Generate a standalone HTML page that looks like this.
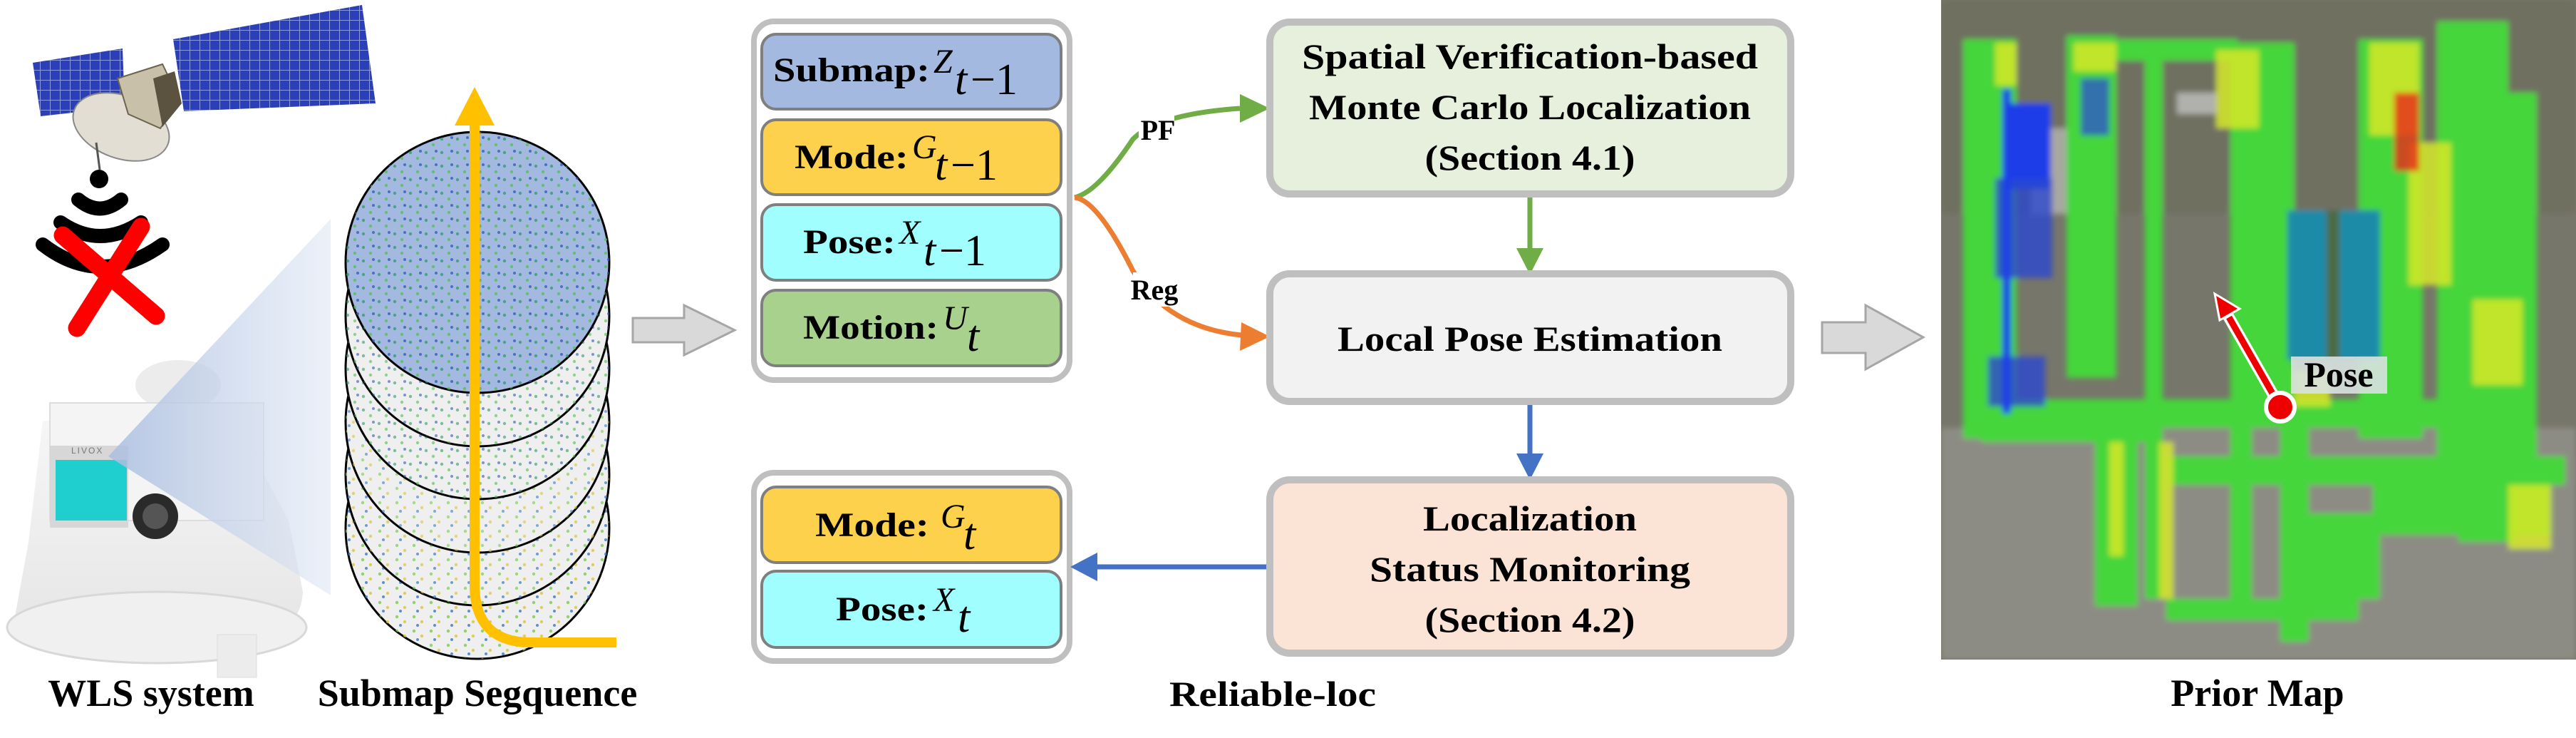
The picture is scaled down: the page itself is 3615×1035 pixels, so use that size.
<!DOCTYPE html>
<html><head><meta charset="utf-8"><style>
html,body{margin:0;padding:0;background:#fff}
svg{display:block}
text{font-family:"Liberation Serif",serif}
.b{font-weight:bold}
.m{font-style:italic;font-weight:normal}
</style></head><body>
<svg width="3615" height="1035" viewBox="0 0 3615 1035" xmlns="http://www.w3.org/2000/svg">
<defs>
<linearGradient id="beam" x1="0" y1="0" x2="1" y2="0"><stop offset="0" stop-color="#a9bde0" stop-opacity="0.85"/><stop offset="1" stop-color="#dfe7f4" stop-opacity="0.6"/></linearGradient>
<linearGradient id="body" x1="0" y1="0" x2="0" y2="1"><stop offset="0" stop-color="#f6f6f6"/><stop offset="1" stop-color="#e4e4e4"/></linearGradient>
<pattern id="cells" width="14" height="14" patternUnits="userSpaceOnUse"><rect width="14" height="14" fill="#2b3fb8"/><path d="M0 0H14M0 0V14" stroke="#8a98e0" stroke-width="2"/></pattern>
<pattern id="dots" width="22" height="19" patternUnits="userSpaceOnUse"><circle cx="4" cy="5" r="2.2" fill="#2e9a6a"/><circle cx="14" cy="13" r="2.2" fill="#4fbf4f"/><circle cx="18" cy="3" r="2" fill="#2c58b8"/></pattern>
<pattern id="dots2" width="24" height="20" patternUnits="userSpaceOnUse"><circle cx="5" cy="5" r="2.2" fill="#7acb4a"/><circle cx="16" cy="12" r="2.2" fill="#d8c63a"/><circle cx="10" cy="17" r="2" fill="#3a78c8"/></pattern>
<filter id="soft" x="-5%" y="-5%" width="110%" height="110%"><feGaussianBlur stdDeviation="4"/></filter>
</defs>

<!-- Satellite -->
<g>
<polygon points="46,88 172,68 175,150 57,163" fill="url(#cells)"/>
<polygon points="243,55 508,7 527,145 258,156" fill="url(#cells)"/>
<ellipse cx="170" cy="178" rx="70" ry="44" transform="rotate(20 170 178)" fill="#e2ded4" stroke="#888" stroke-width="2"/>
<polygon points="165,110 228,90 252,140 225,180 180,160" fill="#c8c0a8" stroke="#6b6450" stroke-width="2"/>
<polygon points="215,110 245,100 255,145 228,178" fill="#5b5240"/>
<line x1="135" y1="200" x2="140" y2="238" stroke="#555" stroke-width="3"/>
</g>
<!-- wifi -->
<circle cx="139" cy="251" r="13" fill="#000"/>
<g fill="none" stroke="#000" stroke-linecap="round" stroke-width="20">
<path d="M110,280 Q140,305 170,280"/>
<path d="M85,312 Q140,350 198,312"/>
<path d="M60,343 Q140,405 228,343"/>
</g>
<g stroke="#f00" stroke-width="25" stroke-linecap="round">
<line x1="88" y1="330" x2="219" y2="443"/><line x1="198" y1="318" x2="108" y2="460"/>
</g>

<!-- WLS device -->
<g>
<path d="M20,870 Q10,920 200,925 Q420,930 425,830 L405,730 L330,590 L60,590 L40,760 Z" fill="url(#body)"/>
<ellipse cx="220" cy="880" rx="210" ry="50" fill="#f0f0f0" stroke="#d8d8d8" stroke-width="3"/>
<ellipse cx="250" cy="540" rx="60" ry="35" fill="#ececec"/>
<rect x="70" y="565" width="300" height="165" fill="#f4f4f4" stroke="#ddd" stroke-width="2"/>
<rect x="70" y="625" width="110" height="115" fill="#d7d7d7"/>
<rect x="78" y="645" width="100" height="85" fill="#1fcfcf"/>
<text x="100" y="636" font-size="12" fill="#777" style="font-family:'Liberation Sans',sans-serif;letter-spacing:2px">LIVOX</text>
<circle cx="218" cy="724" r="32" fill="#2a2a2a"/><circle cx="218" cy="724" r="18" fill="#555"/>
<rect x="305" y="890" width="55" height="60" fill="#ececec" stroke="#ddd"/>
<polygon points="152,640 464,307 464,835" fill="url(#beam)"/>
</g>

<!-- submap stack -->
<g stroke="#000" stroke-width="3">
<ellipse cx="670" cy="741" rx="185" ry="183" fill="#efefef"/>
<ellipse cx="670" cy="741" rx="185" ry="183" fill="url(#dots2)" stroke="none" opacity="0.8"/>
<ellipse cx="670" cy="666" rx="185" ry="183" fill="#efefef"/>
<ellipse cx="670" cy="666" rx="185" ry="183" fill="url(#dots2)" stroke="none" opacity="0.7"/>
<ellipse cx="670" cy="592" rx="185" ry="183" fill="#efefef"/>
<ellipse cx="670" cy="592" rx="185" ry="183" fill="url(#dots2)" stroke="none" opacity="0.6"/>
<ellipse cx="670" cy="517" rx="185" ry="183" fill="#efefef"/>
<ellipse cx="670" cy="517" rx="185" ry="183" fill="url(#dots)" stroke="none" opacity="0.6"/>
<ellipse cx="670" cy="443" rx="185" ry="183" fill="#efefef"/>
<ellipse cx="670" cy="443" rx="185" ry="183" fill="url(#dots)" stroke="none" opacity="0.6"/>
<ellipse cx="670" cy="368" rx="185" ry="183" fill="#a4b9e0"/>
<ellipse cx="670" cy="368" rx="185" ry="183" fill="url(#dots)" stroke="none" opacity="0.75"/>
</g>
<path d="M666,155 L666,820 Q666,901 745,901 L865,901" fill="none" stroke="#ffc000" stroke-width="14"/>
<polygon points="666,122 638,176 694,176" fill="#ffc000"/>

<!-- gray arrows -->
<polygon points="888,446 960,446 960,428 1031,463 960,498 960,480 888,480" fill="#d9d9d9" stroke="#a6a6a6" stroke-width="3"/>
<polygon points="2557,452 2618,452 2618,428 2699,473 2618,518 2618,495 2557,495" fill="#d9d9d9" stroke="#a6a6a6" stroke-width="3"/>

<text x="212" y="990" font-size="54" class="b" text-anchor="middle">WLS system</text>
<text x="670" y="990" font-size="54" class="b" text-anchor="middle">Submap Segquence</text>

<!-- input group -->
<rect x="1058" y="30" width="443" height="503" rx="28" fill="#fff" stroke="#bfbfbf" stroke-width="8"/>
<rect x="1069" y="48" width="420" height="105" rx="20" fill="#a4b9e0" stroke="#7f7f7f" stroke-width="4"/>
<rect x="1069" y="168" width="420" height="105" rx="20" fill="#fed14d" stroke="#7f7f7f" stroke-width="4"/>
<rect x="1069" y="287" width="420" height="106" rx="20" fill="#a0fefe" stroke="#7f7f7f" stroke-width="4"/>
<rect x="1069" y="407" width="420" height="106" rx="20" fill="#a9d18e" stroke="#7f7f7f" stroke-width="4"/>
<g font-size="48">
<text x="1085" y="114" class="b" textLength="220" lengthAdjust="spacingAndGlyphs">Submap:</text>
<text x="1310" y="102" class="m" font-size="48">Z</text><text x="1340" y="132" class="m" font-size="62">t</text><text x="1362" y="132" font-size="62">−1</text>
<text x="1115" y="236" class="b" textLength="160" lengthAdjust="spacingAndGlyphs">Mode:</text>
<text x="1280" y="222" class="m" font-size="48">G</text><text x="1312" y="252" class="m" font-size="62">t</text><text x="1334" y="252" font-size="62">−1</text>
<text x="1127" y="355" class="b" textLength="130" lengthAdjust="spacingAndGlyphs">Pose:</text>
<text x="1262" y="342" class="m" font-size="48">X</text><text x="1296" y="372" class="m" font-size="62">t</text><text x="1318" y="372" font-size="62">−1</text>
<text x="1127" y="475" class="b" textLength="190" lengthAdjust="spacingAndGlyphs">Motion:</text>
<text x="1323" y="462" class="m" font-size="48">U</text><text x="1357" y="492" class="m" font-size="62">t</text>
</g>

<!-- output group -->
<rect x="1058" y="663" width="443" height="264" rx="28" fill="#fff" stroke="#bfbfbf" stroke-width="8"/>
<rect x="1069" y="683" width="420" height="106" rx="20" fill="#fed14d" stroke="#7f7f7f" stroke-width="4"/>
<rect x="1069" y="801" width="420" height="107" rx="20" fill="#a0fefe" stroke="#7f7f7f" stroke-width="4"/>
<g font-size="48">
<text x="1144" y="752" class="b" textLength="160" lengthAdjust="spacingAndGlyphs">Mode:</text>
<text x="1320" y="740" class="m" font-size="48">G</text><text x="1352" y="770" class="m" font-size="62">t</text>
<text x="1173" y="870" class="b" textLength="130" lengthAdjust="spacingAndGlyphs">Pose:</text>
<text x="1310" y="857" class="m" font-size="48">X</text><text x="1344" y="886" class="m" font-size="62">t</text>
</g>

<!-- connectors -->
<path d="M1508,277 Q1540,270 1590,195 Q1625,160 1740,152" fill="none" stroke="#70ad47" stroke-width="7"/>
<polygon points="1782,152 1740,132 1740,172" fill="#70ad47"/>
<path d="M1508,277 Q1540,280 1590,380 Q1640,460 1742,470" fill="none" stroke="#ed7d31" stroke-width="7"/>
<polygon points="1782,472 1742,452 1740,492" fill="#ed7d31"/>
<rect x="1598" y="160" width="50" height="40" fill="#fff"/>
<text x="1625" y="196" font-size="40" class="b" text-anchor="middle">PF</text>
<rect x="1590" y="382" width="60" height="48" fill="#fff"/>
<text x="1620" y="420" font-size="40" class="b" text-anchor="middle">Reg</text>
<line x1="2147" y1="272" x2="2147" y2="352" stroke="#70ad47" stroke-width="7"/>
<polygon points="2147,385 2128,348 2166,348" fill="#70ad47"/>
<line x1="2147" y1="563" x2="2147" y2="640" stroke="#4472c4" stroke-width="7"/>
<polygon points="2147,673 2128,636 2166,636" fill="#4472c4"/>
<line x1="1782" y1="795" x2="1538" y2="795" stroke="#4472c4" stroke-width="7"/>
<polygon points="1502,795 1540,775 1540,815" fill="#4472c4"/>

<!-- process boxes -->
<rect x="1782" y="31" width="731" height="241" rx="28" fill="#e6f0dd" stroke="#bfbfbf" stroke-width="10"/>
<rect x="1782" y="384" width="731" height="179" rx="28" fill="#f2f2f2" stroke="#bfbfbf" stroke-width="10"/>
<rect x="1782" y="673" width="731" height="243" rx="28" fill="#fbe4d6" stroke="#bfbfbf" stroke-width="10"/>
<g font-size="50" class="b" text-anchor="middle">
<text x="2147" y="96" textLength="640" lengthAdjust="spacingAndGlyphs">Spatial Verification-based</text>
<text x="2147" y="167" textLength="620" lengthAdjust="spacingAndGlyphs">Monte Carlo Localization</text>
<text x="2147" y="238" textLength="295" lengthAdjust="spacingAndGlyphs">(Section 4.1)</text>
<text x="2147" y="492" textLength="540" lengthAdjust="spacingAndGlyphs">Local Pose Estimation</text>
<text x="2147" y="744" textLength="300" lengthAdjust="spacingAndGlyphs">Localization</text>
<text x="2147" y="815" textLength="450" lengthAdjust="spacingAndGlyphs">Status Monitoring</text>
<text x="2147" y="886" textLength="295" lengthAdjust="spacingAndGlyphs">(Section 4.2)</text>
</g>
<text x="1786" y="990" font-size="50" class="b" text-anchor="middle" textLength="290" lengthAdjust="spacingAndGlyphs">Reliable-loc</text>

<!-- prior map -->
<svg x="2724" y="0" width="891" height="925" viewBox="2724 0 891 925">
<rect x="2724" y="0" width="891" height="925" fill="#77766a"/>
<g filter="url(#soft)">
<rect x="2724" y="600" width="891" height="325" fill="#8d8c84"/>
<rect x="2724" y="0" width="891" height="300" fill="#6f7060"/>
<rect x="2850" y="180" width="50" height="120" fill="#a8a8a0"/>
<g fill="#45d63a">
<rect x="2755" y="55" width="75" height="560"/>
<rect x="2780" y="560" width="230" height="60"/>
<rect x="2900" y="50" width="70" height="480"/>
<rect x="2960" y="55" width="180" height="30"/>
<rect x="3010" y="80" width="25" height="760"/>
<rect x="3130" y="60" width="30" height="780"/>
<rect x="3010" y="560" width="470" height="40"/>
<rect x="3160" y="60" width="60" height="540"/>
<rect x="3310" y="55" width="90" height="560"/>
<rect x="3420" y="30" width="100" height="720"/>
<rect x="3500" y="130" width="60" height="620"/>
<rect x="3040" y="640" width="560" height="40"/>
<rect x="3200" y="600" width="40" height="300"/>
<rect x="3040" y="840" width="270" height="30"/>
<rect x="3330" y="660" width="250" height="90"/>
<rect x="3240" y="720" width="100" height="120"/>
<rect x="2940" y="600" width="60" height="250"/>
<rect x="3450" y="600" width="80" height="160"/>
</g>
<g fill="#d6e82a" opacity="0.85">
<rect x="2800" y="60" width="30" height="60"/>
<rect x="2910" y="60" width="60" height="40"/>
<rect x="3110" y="70" width="60" height="110"/>
<rect x="3325" y="60" width="70" height="130"/>
<rect x="3380" y="200" width="60" height="200"/>
<rect x="3470" y="420" width="70" height="120"/>
<rect x="3030" y="620" width="20" height="220"/>
<rect x="3520" y="680" width="60" height="90"/>
<rect x="3220" y="520" width="50" height="50"/>
<rect x="2960" y="620" width="20" height="160"/>
</g>
<rect x="3360" y="130" width="35" height="110" fill="#e8281a" opacity="0.8"/>
<rect x="2818" y="145" width="60" height="120" fill="#1a3ce8"/>
<rect x="2800" y="250" width="80" height="140" fill="#2a48d0" opacity="0.8"/>
<rect x="2790" y="500" width="80" height="70" fill="#2a48d0" opacity="0.8"/>
<rect x="2810" y="125" width="12" height="455" fill="#1a3ce8"/>
<rect x="2920" y="110" width="40" height="80" fill="#2a58c8" opacity="0.8"/>
<rect x="3210" y="295" width="130" height="210" fill="#1f8ba8"/>
<rect x="3265" y="295" width="18" height="210" fill="#4e6a45"/>
<rect x="3055" y="130" width="55" height="30" fill="#c0c0c0" opacity="0.8"/>
</g>
</svg>
<line x1="3200" y1="571" x2="3125" y2="440" stroke="#fff" stroke-width="16"/>
<line x1="3200" y1="571" x2="3128" y2="445" stroke="#e00" stroke-width="9"/>
<polygon points="3108,412 3143,433 3115,449" fill="#e00" stroke="#fff" stroke-width="3"/>
<circle cx="3200" cy="571" r="20" fill="#e00" stroke="#fff" stroke-width="6"/>
<rect x="3215" y="500" width="135" height="52" fill="#d8e2e0" opacity="0.9"/>
<text x="3282" y="542" font-size="50" class="b" text-anchor="middle">Pose</text>
<text x="3168" y="990" font-size="54" class="b" text-anchor="middle">Prior Map</text>
</svg>
</body></html>
